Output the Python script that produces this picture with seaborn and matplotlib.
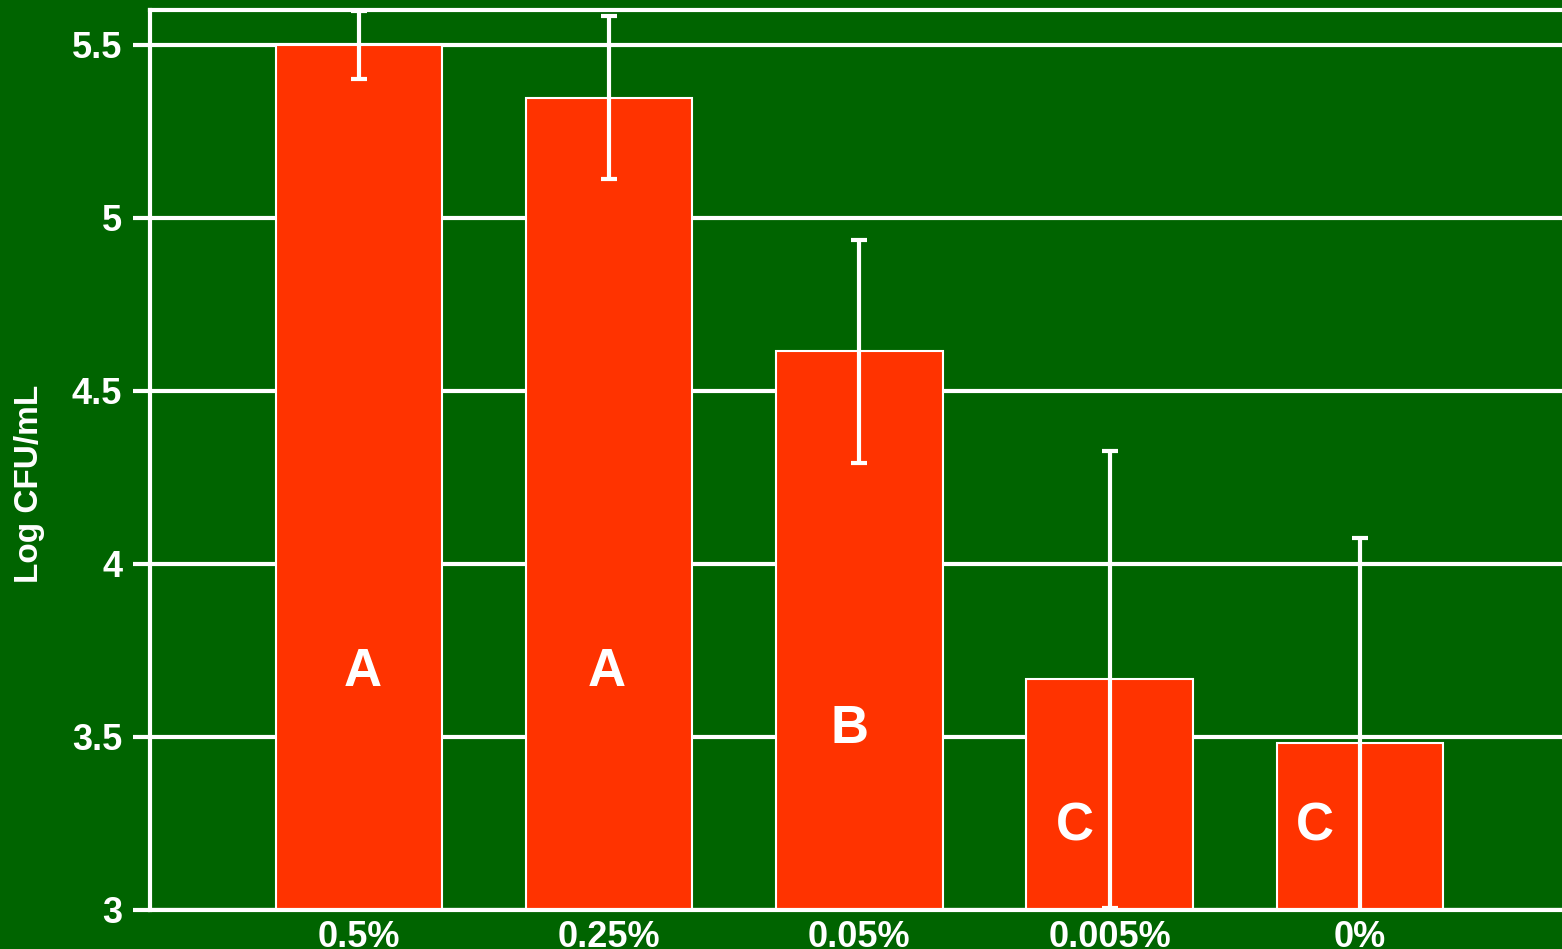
import matplotlib
matplotlib.use("Agg")
import matplotlib.pyplot as plt
import seaborn as sns
import pandas as pd

# Treatment concentrations and mean log counts with standard deviations
concentrations = ["0.5%", "0.25%", "0.05%", "0.005%", "0%"]
log_cfu = [5.50, 5.347, 4.614, 3.667, 3.482]
std_dev = [0.098, 0.235, 0.322, 0.660, 0.592]
groups = ["A", "A", "B", "C", "C"]

BG = "#006400"
BAR = "#FF3300"

sns.set_theme(style="white")
plt.rcParams["font.family"] = ["Liberation Sans", "DejaVu Sans"]
plt.rcParams["font.weight"] = "bold"

df = pd.DataFrame({"conc": concentrations, "logcfu": log_cfu})

fig = plt.figure(figsize=(15.62, 9.49), dpi=100, facecolor=BG)
ax = fig.add_axes([0.096, 0.0411, 0.9084, 0.9484])
ax.set_facecolor(BG)

sns.barplot(data=df, x="conc", y="logcfu", order=concentrations,
            color=BAR, saturation=1, width=0.665, errorbar=None,
            edgecolor="white", linewidth=1.5, ax=ax, zorder=2)

ax.errorbar(range(len(concentrations)), log_cfu, yerr=std_dev, fmt="none",
            ecolor="white", elinewidth=3, capsize=6, capthick=3, zorder=3)

# significance letters inside the bars
letter_pos = [(0.016, 3.687), (0.99, 3.687), (1.96, 3.523), (2.86, 3.240), (3.82, 3.240)]
for g, (x, y) in zip(groups, letter_pos):
    ax.text(x, y, g, color="white", fontsize=38, fontweight="bold",
            ha="center", va="center", zorder=4)

ax.set_ylim(3, 5.6)
ax.set_xlim(-0.835, 4.835)
ax.set_yticks([3, 3.5, 4, 4.5, 5, 5.5])
ax.set_yticklabels(["3", "3.5", "4", "4.5", "5", "5.5"])
ax.set_axisbelow(True)
ax.yaxis.grid(True, color="white", linewidth=3)
ax.xaxis.grid(False)

for side in ["left", "top", "bottom"]:
    ax.spines[side].set_color("white")
    ax.spines[side].set_linewidth(3)
ax.spines["right"].set_visible(False)

ax.tick_params(axis="y", colors="white", labelsize=26, length=12, width=3,
               direction="out", left=True, pad=8)
ax.tick_params(axis="x", colors="white", labelsize=26, length=0, pad=7)
for lbl in ax.get_xticklabels() + ax.get_yticklabels():
    lbl.set_fontweight("bold")

ax.set_xlabel("")
ax.set_ylabel("Log CFU/mL", color="white", fontsize=24, fontweight="bold")
ax.yaxis.set_label_coords(-0.074, 0.473)

fig.savefig("out.png", dpi=100, facecolor=BG)
